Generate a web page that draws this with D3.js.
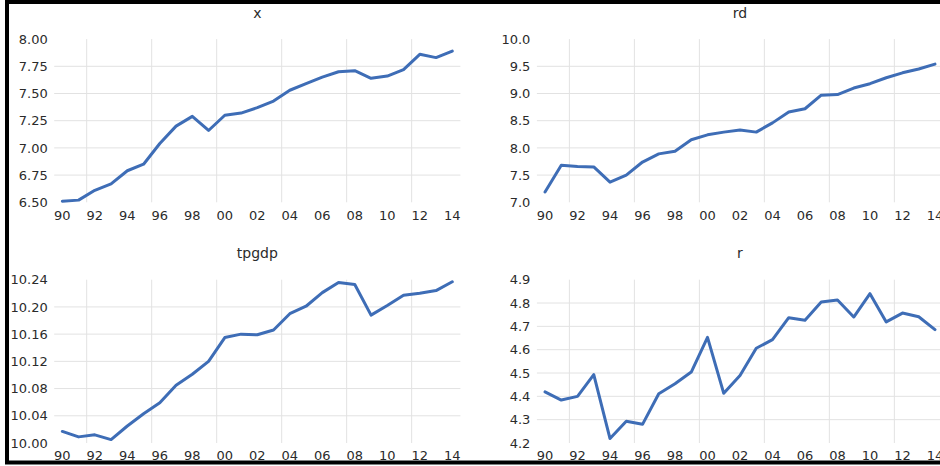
<!DOCTYPE html>
<html>
<head>
<meta charset="utf-8">
<script src="https://cdn.jsdelivr.net/npm/d3@7"></script>
<style>
  body { margin: 0; background: #fff; }
  svg { display: block; }
  text { font-family: "DejaVu Sans", sans-serif; fill: #2b2b2b; }
</style>
</head>
<body>
<svg id="chart"></svg>
<script>
// years 1990-2014, labelled by two digits
var years = d3.range(1990, 2015);
var labelYears = d3.range(1990, 2015, 2);
var gridYears = [1992, 1996, 2000, 2004, 2008, 2012];

var xVals = [6.51, 6.52, 6.61, 6.67, 6.79, 6.85, 7.04, 7.20, 7.29, 7.16,
             7.30, 7.32, 7.37, 7.43, 7.53, 7.59, 7.65, 7.70, 7.71, 7.64,
             7.66, 7.72, 7.86, 7.83, 7.89];
var rdVals = [7.19, 7.68, 7.66, 7.65, 7.37, 7.50, 7.74, 7.89, 7.94, 8.15,
              8.24, 8.29, 8.33, 8.29, 8.46, 8.66, 8.72, 8.97, 8.98, 9.10,
              9.18, 9.29, 9.38, 9.45, 9.54];
var tpgdpVals = [10.017, 10.009, 10.012, 10.005, 10.025, 10.043, 10.059, 10.085, 10.101, 10.120,
                 10.155, 10.160, 10.159, 10.166, 10.190, 10.201, 10.221, 10.236, 10.233, 10.188,
                 10.202, 10.217, 10.220, 10.224, 10.237];
var rVals = [4.419, 4.384, 4.400, 4.493, 4.219, 4.293, 4.280, 4.411, 4.454, 4.504,
             4.653, 4.413, 4.489, 4.606, 4.643, 4.737, 4.726, 4.804, 4.813, 4.740,
             4.840, 4.719, 4.757, 4.741, 4.686];

var xTicks = [6.50, 6.75, 7.00, 7.25, 7.50, 7.75, 8.00];
var rdTicks = [7.0, 7.5, 8.0, 8.5, 9.0, 9.5, 10.0];
var tpgdpTicks = [10.00, 10.04, 10.08, 10.12, 10.16, 10.20, 10.24];
var rTicks = [4.2, 4.3, 4.4, 4.5, 4.6, 4.7, 4.8, 4.9];

var width = 940, height = 466;
var lineColor = '#3e6db6';
var gridColor = '#e2e2e2';

var svg = d3.select('#chart')
    .attr('width', width)
    .attr('height', height);

svg.append('rect')
    .attr('width', width)
    .attr('height', height)
    .attr('fill', '#fff');

function drawPanel(p) {
    var g = svg.append('g').attr('class', 'panel');

    var x = d3.scaleBand()
        .domain(years)
        .range([p.left, p.right]);
    var y = d3.scaleLinear()
        .domain([p.ticks[0], p.ticks[p.ticks.length - 1]])
        .range([p.bottom, p.top]);

    // horizontal gridlines (not at the ends)
    g.append('g')
        .selectAll('line')
        .data(p.ticks.slice(1, -1))
        .join('line')
        .attr('x1', p.left)
        .attr('x2', p.right)
        .attr('y1', function(d) {return y(d);})
        .attr('y2', function(d) {return y(d);})
        .attr('stroke', gridColor)
        .attr('stroke-width', 1);

    // vertical gridlines at category boundaries
    g.append('g')
        .selectAll('line')
        .data(gridYears)
        .join('line')
        .attr('x1', function(d) {return x(d);})
        .attr('x2', function(d) {return x(d);})
        .attr('y1', p.top)
        .attr('y2', p.bottom)
        .attr('stroke', gridColor)
        .attr('stroke-width', 1);

    var yAxis = g.append('g')
        .attr('transform', 'translate(' + p.left + ',0)')
        .call(d3.axisLeft(y)
            .tickValues(p.ticks)
            .tickFormat(d3.format(p.fmt))
            .tickSize(0)
            .tickPadding(6.5));
    yAxis.select('.domain').remove();
    yAxis.selectAll('text')
        .attr('font-size', '13px')
        .attr('font-family', '"DejaVu Sans", sans-serif')
        .attr('fill', '#2b2b2b');

    var xAxis = g.append('g')
        .attr('transform', 'translate(0,' + p.bottom + ')')
        .call(d3.axisBottom(x)
            .tickValues(labelYears)
            .tickFormat(function(d) {return String(d).slice(2);})
            .tickSize(0)
            .tickPadding(8));
    xAxis.select('.domain').remove();
    xAxis.selectAll('text')
        .attr('font-size', '13px')
        .attr('font-family', '"DejaVu Sans", sans-serif')
        .attr('fill', '#2b2b2b');

    var line = d3.line()
        .x(function(d, i) {return x(years[i]) + x.bandwidth() / 2;})
        .y(function(d) {return y(d);});

    g.append('path')
        .datum(p.values)
        .attr('d', line)
        .attr('fill', 'none')
        .attr('stroke', lineColor)
        .attr('stroke-width', 3)
        .attr('stroke-linejoin', 'round')
        .attr('stroke-linecap', 'round');

    g.append('text')
        .text(p.title)
        .attr('x', (p.left + p.right) / 2)
        .attr('y', p.titleY)
        .attr('text-anchor', 'middle')
        .attr('font-size', '14px');
}

drawPanel({title: 'x', values: xVals, ticks: xTicks, fmt: '.2f',
    left: 54.2, right: 460.4, top: 39.1, bottom: 202.3, titleY: 18});
drawPanel({title: 'rd', values: rdVals, ticks: rdTicks, fmt: '.1f',
    left: 536.9, right: 943.1, top: 39.1, bottom: 202.3, titleY: 18});
drawPanel({title: 'tpgdp', values: tpgdpVals, ticks: tpgdpTicks, fmt: '.2f',
    left: 54.2, right: 460.4, top: 279.7, bottom: 443, titleY: 258});
drawPanel({title: 'r', values: rVals, ticks: rTicks, fmt: '.1f',
    left: 536.9, right: 943.1, top: 279.7, bottom: 443, titleY: 258});

// black frame, its right side runs past the picture
svg.append('rect')
    .attr('x', 7)
    .attr('y', 2)
    .attr('width', 1000)
    .attr('height', 460.5)
    .attr('fill', 'none')
    .attr('stroke', '#000')
    .attr('stroke-width', 4);
</script>
</body>
</html>
